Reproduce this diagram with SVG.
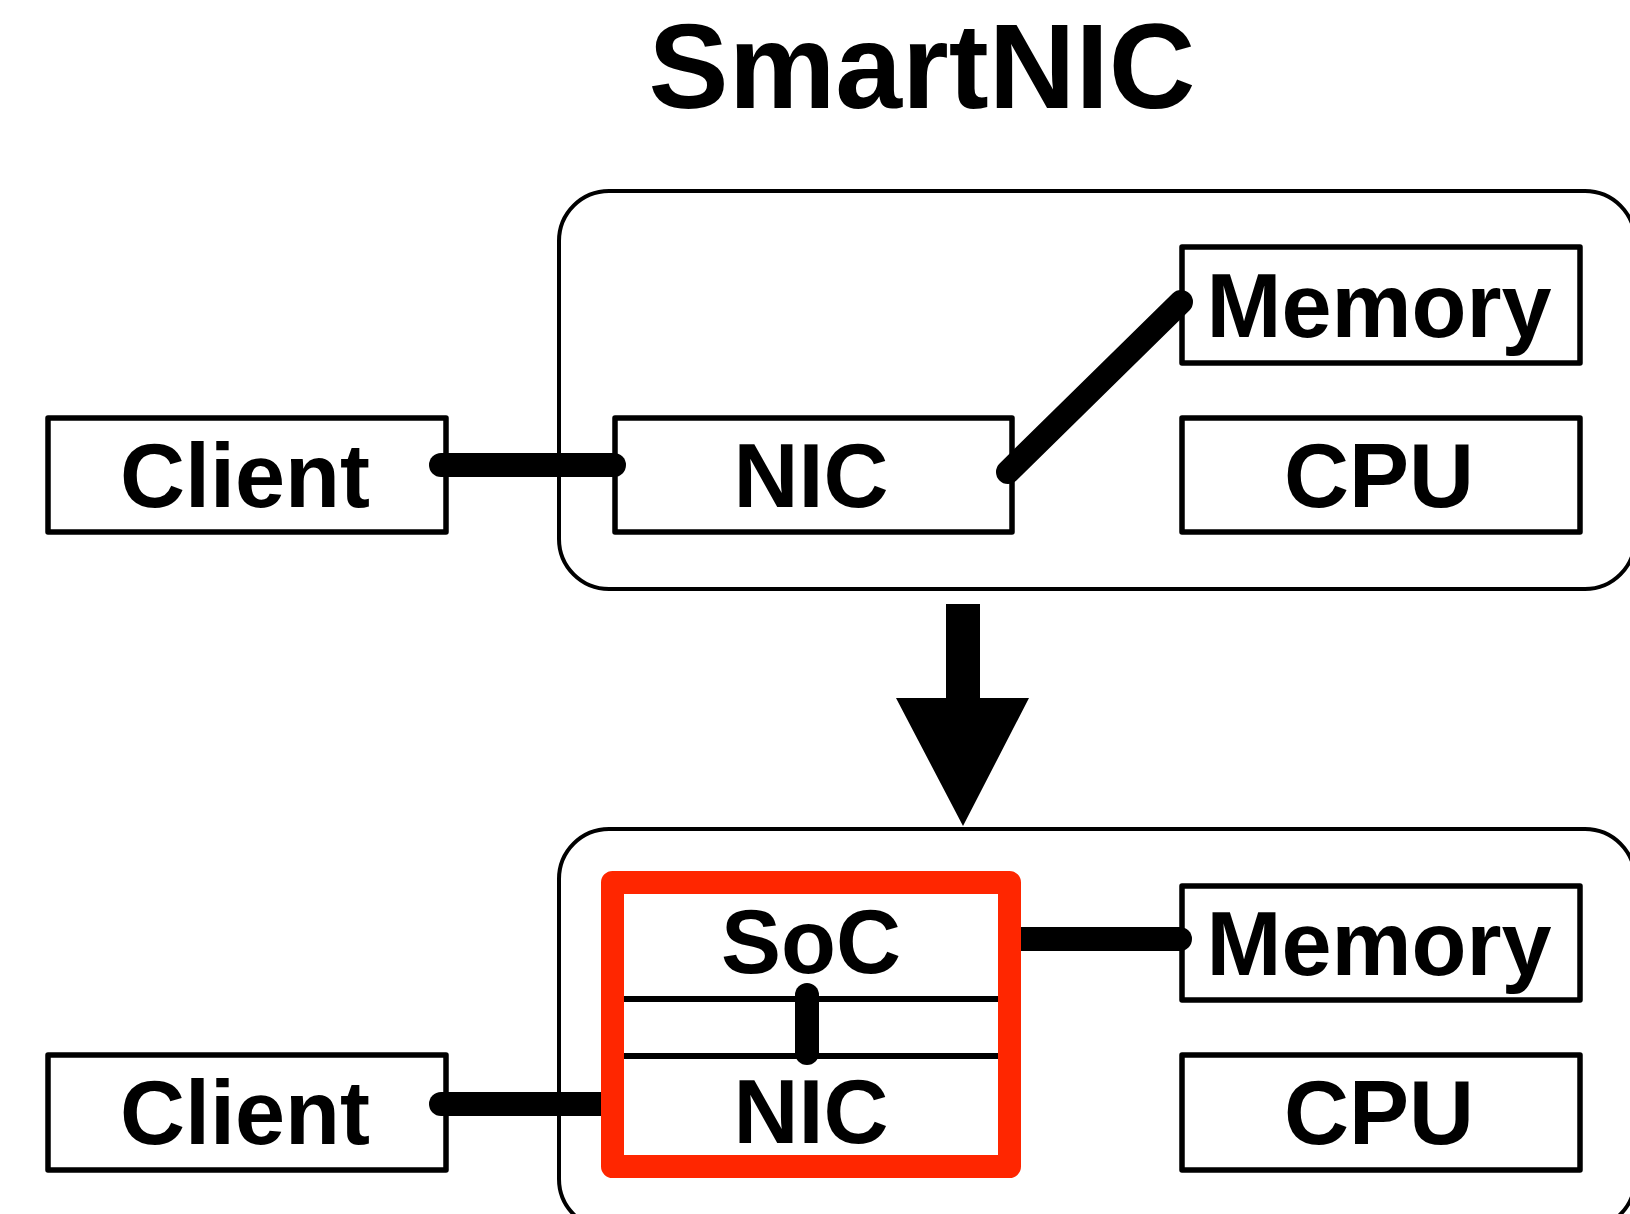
<svg xmlns="http://www.w3.org/2000/svg" width="1630" height="1214" viewBox="0 0 1630 1214">
  <style>
    .label { font-family: "Liberation Sans", Arial, Helvetica, sans-serif; font-weight: bold; font-size: 90px; text-anchor: middle; fill: #000; }
    .title { font-family: "Liberation Sans", Arial, Helvetica, sans-serif; font-weight: bold; font-size: 120px; text-anchor: middle; fill: #000; }
    .box { fill: #fff; stroke: #000; stroke-width: 5.5; stroke-linejoin: round; }
    .container { fill: none; stroke: #000; stroke-width: 4; }
    .link { stroke: #000; stroke-width: 24; fill: none; }
    .round { stroke-linecap: round; }
    .divider { stroke: #000; stroke-width: 6; }
  </style>
  <rect width="1630" height="1214" fill="#fff"/>

  <text class="title" x="922" y="108">SmartNIC</text>

  <!-- enclosures -->
  <g id="server-before">
    <rect class="container" x="559" y="191" width="1076" height="398" rx="50" ry="50"/>
  </g>
  <g id="server-after">
    <rect class="container" x="559" y="829" width="1076" height="400" rx="50" ry="50"/>
  </g>

  <!-- top row: classic NIC -->
  <g id="client-top">
    <rect class="box" x="48" y="418" width="398" height="114"/>
    <text class="label" x="245" y="507">Client</text>
  </g>
  <g id="nic-top">
    <rect class="box" x="615" y="418" width="397" height="114"/>
    <text class="label" x="811" y="507">NIC</text>
  </g>
  <g id="memory-top">
    <rect class="box" x="1182" y="247" width="398" height="116"/>
    <text class="label" x="1379" y="337">Memory</text>
  </g>
  <g id="cpu-top">
    <rect class="box" x="1182" y="418" width="398" height="114"/>
    <text class="label" x="1379" y="507">CPU</text>
  </g>

  <!-- bottom row: SmartNIC -->
  <g id="client-bottom">
    <rect class="box" x="48" y="1055" width="398" height="115"/>
    <text class="label" x="245" y="1144">Client</text>
  </g>
  <g id="memory-bottom">
    <rect class="box" x="1182" y="886" width="398" height="114"/>
    <text class="label" x="1379" y="975">Memory</text>
  </g>
  <g id="cpu-bottom">
    <rect class="box" x="1182" y="1055" width="398" height="115"/>
    <text class="label" x="1379" y="1144">CPU</text>
  </g>

  <g id="connectors">
    <line class="link round" x1="441" y1="465" x2="614" y2="465"/>
    <line class="link round" x1="1008" y1="472" x2="1181" y2="302"/>
    <line class="link round" x1="441" y1="1104" x2="612" y2="1104"/>
    <line class="link round" x1="1010" y1="939" x2="1180" y2="939"/>
    <polygon fill="#000" points="946,604 980,604 980,698 1029,698 963,826 896,698 946,698"/>
  </g>

  <g id="smartnic">
    <rect x="612.5" y="882.5" width="397" height="284" fill="#fff" stroke="#ff2600" stroke-width="23" stroke-linejoin="round"/>
    <line class="divider" x1="624" y1="999" x2="998" y2="999"/>
    <line class="divider" x1="624" y1="1056" x2="998" y2="1056"/>
    <line class="link round" x1="807" y1="995" x2="807" y2="1053"/>
    <text class="label" x="811" y="973">SoC</text>
    <text class="label" x="811" y="1143">NIC</text>
  </g>
</svg>
